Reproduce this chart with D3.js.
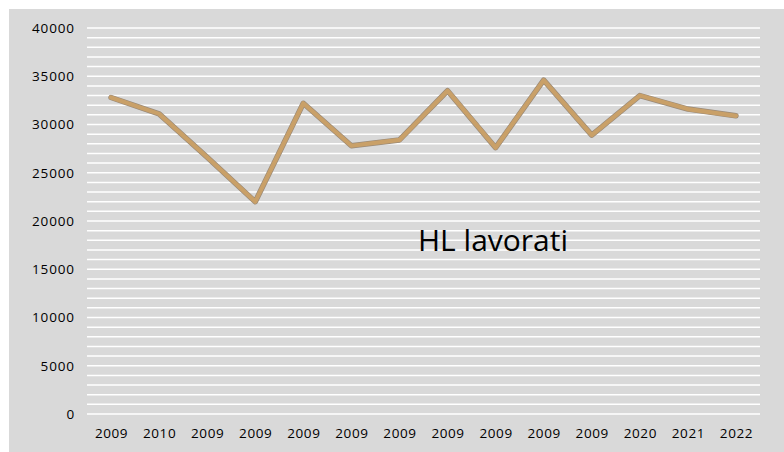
<!DOCTYPE html>
<html>
<head>
<meta charset="utf-8">
<script src="https://cdn.jsdelivr.net/npm/d3@7"></script>
<style>
  body { margin: 0; background: #fff; }
  svg text { font-family: "Open Sans", sans-serif; fill: #000; }
</style>
</head>
<body>
<svg id="chart"></svg>
<script>
// chart data
const years = ["2009", "2010", "2009", "2009", "2009", "2009", "2009", "2009", "2009", "2009", "2009", "2020", "2021", "2022"];
const hl = [32800, 31100, 26600, 22000, 32200, 27800, 28400, 33500, 27600, 34600, 28900, 33000, 31600, 30900];
const yTicks = [0, 5000, 10000, 15000, 20000, 25000, 30000, 35000, 40000];
const gridStep = 1000;
const title = "HL lavorati";

const width = 784;
const height = 452;
const margin = { top: 28, right: 24, bottom: 38, left: 87 };

const svg = d3.select("#chart")
  .attr("width", width)
  .attr("height", height);

// gray chart area
svg.append("rect")
  .attr("x", 9)
  .attr("y", 9)
  .attr("width", width - 9)
  .attr("height", height - 9)
  .attr("fill", "#d9d9d9");

const x = d3.scalePoint()
  .domain(d3.range(years.length))
  .range([margin.left, width - margin.right])
  .padding(0.5);

const y = d3.scaleLinear()
  .domain([0, 40000])
  .range([height - margin.bottom, margin.top]);

// white gridlines every 1000
const gridVals = d3.range(0, 40000 + gridStep, gridStep);
svg.append("g")
  .selectAll("line")
  .data(gridVals)
  .enter()
  .append("line")
  .attr("x1", margin.left)
  .attr("x2", width - margin.right)
  .attr("y1", d => y(d))
  .attr("y2", d => y(d))
  .attr("stroke", "#fff")
  .attr("stroke-width", 1.5);

// y axis labels
const yAxis = d3.axisLeft(y).tickValues(yTicks).tickFormat(d3.format("d")).tickSize(0).tickPadding(12);
const gy = svg.append("g")
  .attr("transform", `translate(${margin.left},0)`)
  .call(yAxis);
gy.select(".domain").remove();
gy.selectAll("text")
  .style("font-size", "13.5px")
  .style("letter-spacing", "0.9px")
  .style("font-family", "'Open Sans', sans-serif");

// x axis labels
const xAxis = d3.axisBottom(x).tickFormat(i => years[i]).tickSize(0).tickPadding(14);
const gx = svg.append("g")
  .attr("transform", `translate(0,${height - margin.bottom})`)
  .call(xAxis);
gx.select(".domain").remove();
gx.selectAll("text")
  .style("font-size", "13.5px")
  .style("letter-spacing", "0.6px")
  .style("font-family", "'Open Sans', sans-serif");

// line
const line = d3.line()
  .x((d, i) => x(i))
  .y(d => y(d));

svg.append("path")
  .datum(hl)
  .attr("fill", "none")
  .attr("stroke", "#9a8a78")
  .attr("stroke-width", 5.5)
  .attr("stroke-linejoin", "round")
  .attr("stroke-linecap", "round")
  .attr("d", line);

svg.append("path")
  .datum(hl)
  .attr("fill", "none")
  .attr("stroke", "#c9a068")
  .attr("stroke-width", 4.2)
  .attr("stroke-linejoin", "round")
  .attr("stroke-linecap", "round")
  .attr("d", line);

// title inside the plot
svg.append("text")
  .attr("x", 418)
  .attr("y", 251)
  .style("font-size", "30px")
  .text(title);
</script>
</body>
</html>
